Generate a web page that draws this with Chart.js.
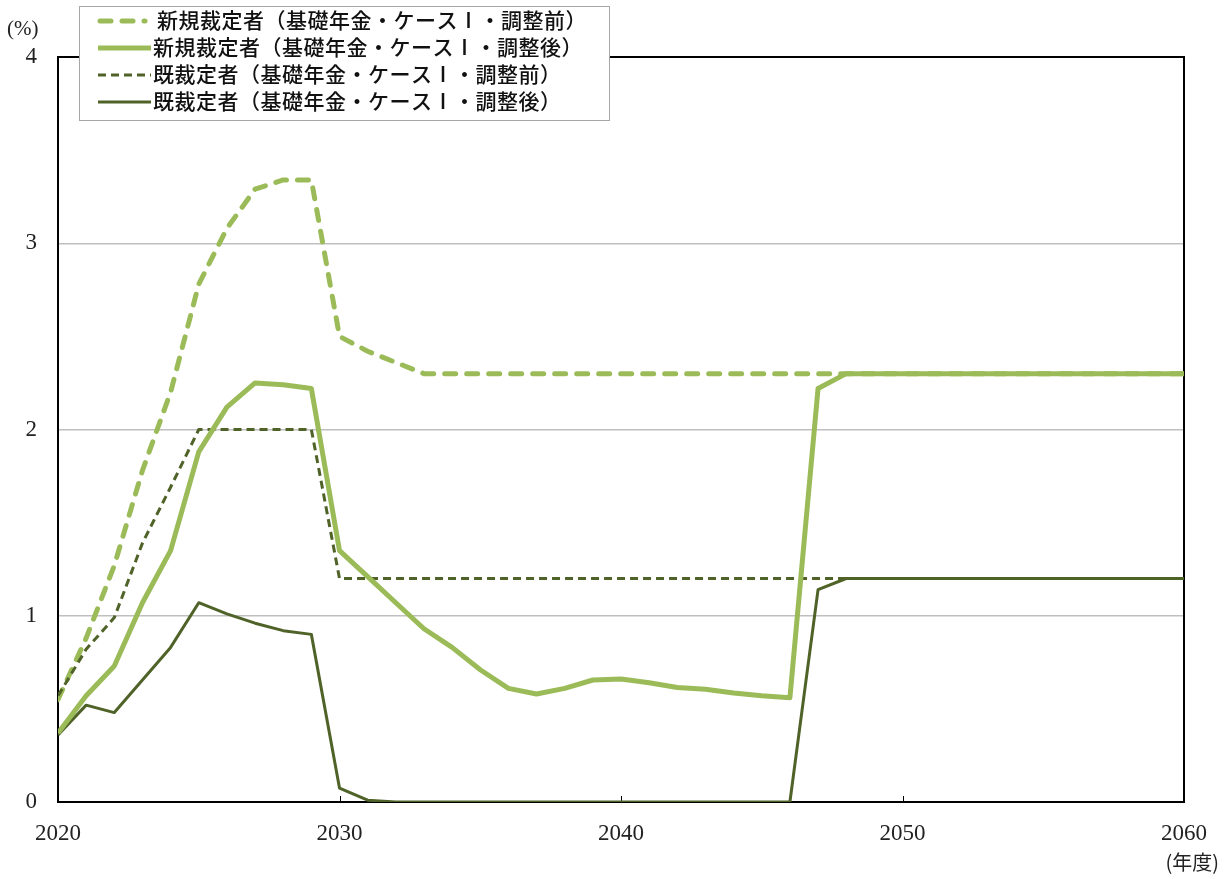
<!DOCTYPE html>
<html>
<head>
<meta charset="utf-8">
<script src="https://cdn.jsdelivr.net/npm/chart.js@4/dist/chart.umd.min.js"></script>
<style>
  body { margin: 0; background: #fff; }
  canvas { display: block; }
</style>
</head>
<body>
<canvas id="pension" width="1228" height="879"></canvas>
<script>
const ctx = document.getElementById('pension').getContext('2d');

// fiscal years on the x axis
const years = [
  2020, 2021, 2022, 2023, 2024, 2025, 2026, 2027, 2028, 2029,
  2030, 2031, 2032, 2033, 2034, 2035, 2036, 2037, 2038, 2039,
  2040, 2041, 2042, 2043, 2044, 2045, 2046, 2047, 2048, 2049,
  2050, 2051, 2052, 2053, 2054, 2055, 2056, 2057, 2058, 2059, 2060
];
const xTicks = [2020, 2030, 2040, 2050, 2060];
const yTicks = [0, 1, 2, 3, 4];

const seriesNames = [
  '新規裁定者（基礎年金・ケースⅠ・調整前）',
  '新規裁定者（基礎年金・ケースⅠ・調整後）',
  '既裁定者（基礎年金・ケースⅠ・調整前）',
  '既裁定者（基礎年金・ケースⅠ・調整後）'
];

// 新規裁定者 調整前
let newBefore = [
  0.55, 0.88, 1.27, 1.78, 2.20, 2.78, 3.08, 3.29, 3.34, 3.34,
  2.50, 2.42, 2.36, 2.30, 2.30, 2.30, 2.30, 2.30, 2.30, 2.30,
  2.30, 2.30, 2.30, 2.30, 2.30, 2.30, 2.30, 2.30, 2.30, 2.30,
  2.30, 2.30, 2.30, 2.30, 2.30, 2.30, 2.30, 2.30, 2.30, 2.30, 2.30
];
// 新規裁定者 調整後
let newAfter = [
  0.37, 0.57, 0.73, 1.07, 1.35, 1.88, 2.12, 2.25, 2.24, 2.22,
  1.35, 1.21, 1.07, 0.93, 0.83, 0.71, 0.61, 0.58, 0.61, 0.655,
  0.66, 0.64, 0.615, 0.605, 0.585, 0.57, 0.56, 2.22, 2.30, 2.30,
  2.30, 2.30, 2.30, 2.30, 2.30, 2.30, 2.30, 2.30, 2.30, 2.30, 2.30
];
// 既裁定者 調整前
let oldBefore = [
  0.57, 0.82, 0.99, 1.39, 1.69, 2.00, 2.00, 2.00, 2.00, 2.00,
  1.20, 1.20, 1.20, 1.20, 1.20, 1.20, 1.20, 1.20, 1.20, 1.20,
  1.20, 1.20, 1.20, 1.20, 1.20, 1.20, 1.20, 1.20, 1.20, 1.20,
  1.20, 1.20, 1.20, 1.20, 1.20, 1.20, 1.20, 1.20, 1.20, 1.20, 1.20
];
// 既裁定者 調整後
let oldAfter = [
  0.36, 0.52, 0.48, 0.655, 0.83, 1.07, 1.01, 0.96, 0.92, 0.90,
  0.075, 0.01, 0, 0, 0, 0, 0, 0, 0, 0,
  0, 0, 0, 0, 0, 0, 0, 1.14, 1.20, 1.20,
  1.20, 1.20, 1.20, 1.20, 1.20, 1.20, 1.20, 1.20, 1.20, 1.20, 1.20
];

const lightGreen = '#9BBB59';
const darkGreen = '#4F6228';
const serif = '"Liberation Serif", "Noto Sans CJK JP", serif';
const gothic = '"Noto Sans CJK JP", sans-serif';

function points(values) {
  return values.map((v, i) => ({ x: years[i], y: v }));
}

// black frame, inner x ticks, unit labels
const framePlugin = {
  id: 'frame',
  beforeDatasetsDraw(chart) {
    const a = chart.chartArea;
    const c = chart.ctx;
    const xs = chart.scales.x;
    c.save();
    c.strokeStyle = '#000';
    c.lineWidth = 2;
    c.strokeRect(a.left, a.top, a.right - a.left, a.bottom - a.top);
    c.lineWidth = 1;
    xTicks.slice(1, -1).forEach(t => {
      const px = Math.round(xs.getPixelForValue(t)) + 0.5;
      c.beginPath();
      c.moveTo(px, a.bottom);
      c.lineTo(px, a.bottom - 6);
      c.stroke();
    });
    c.restore();
  },
  afterDraw(chart) {
    const c = chart.ctx;
    c.save();
    c.fillStyle = '#222';
    c.font = '21px ' + serif;
    c.textBaseline = 'middle';
    c.textAlign = 'left';
    c.fillText('(%)', 7, 29);
    c.textAlign = 'right';
    c.font = '20px ' + gothic;
    c.fillText('(年度)', 1219, 862);
    c.restore();
  }
};

// legend box drawn over the plot, top left
const legendPlugin = {
  id: 'boxLegend',
  afterDraw(chart) {
    const c = chart.ctx;
    const box = { x: 79.5, y: 6.5, w: 530, h: 114 };
    c.save();
    c.fillStyle = '#fff';
    c.fillRect(box.x, box.y, box.w, box.h);
    c.strokeStyle = '#A6A6A6';
    c.lineWidth = 1;
    c.strokeRect(box.x, box.y, box.w, box.h);
    const rowY = [21, 48, 75, 102];
    chart.data.datasets.forEach((ds, i) => {
      const y = rowY[i];
      c.beginPath();
      c.strokeStyle = ds.borderColor;
      c.lineWidth = ds.borderWidth;
      c.lineCap = ds.borderCapStyle || 'butt';
      c.setLineDash(ds.borderDash || []);
      c.moveTo(i === 0 ? 100 : 98, y);
      c.lineTo(i === 0 ? 145 : 151, y);
      c.stroke();
      c.setLineDash([]);
      c.fillStyle = '#111';
      c.font = '500 21px ' + gothic;
      c.letterSpacing = '0.5px';
      c.textAlign = 'left';
      c.textBaseline = 'middle';
      c.fillText(ds.label, i === 0 ? 157 : 153, y - 1);
    });
    c.restore();
  }
};

const chart = new Chart(ctx, {
  type: 'line',
  data: {
    datasets: [
      {
        label: seriesNames[0],
        data: points(newBefore),
        borderColor: lightGreen,
        borderWidth: 5,
        borderDash: [11, 11],
        borderCapStyle: 'round',
        order: 4
      },
      {
        label: seriesNames[1],
        data: points(newAfter),
        borderColor: lightGreen,
        borderWidth: 5,
        order: 1
      },
      {
        label: seriesNames[2],
        data: points(oldBefore),
        borderColor: darkGreen,
        borderWidth: 3,
        borderDash: [8, 5],
        order: 3
      },
      {
        label: seriesNames[3],
        data: points(oldAfter),
        borderColor: darkGreen,
        borderWidth: 3,
        order: 2
      }
    ]
  },
  options: {
    responsive: false,
    animation: false,
    layout: { padding: { top: 57, right: 44, left: 0, bottom: 0 } },
    elements: {
      point: { radius: 0 },
      line: { tension: 0, borderJoinStyle: 'round' }
    },
    plugins: {
      legend: { display: false },
      tooltip: { enabled: false }
    },
    scales: {
      x: {
        type: 'linear',
        min: 2020,
        max: 2060,
        afterFit: s => { s.height = 77; },
        afterBuildTicks: s => { s.ticks = xTicks.map(v => ({ value: v })); },
        grid: { display: false },
        border: { display: false },
        ticks: {
          padding: 10,
          color: '#222',
          maxRotation: 0,
          callback: v => String(v),
          font: { family: serif, size: 23 }
        }
      },
      y: {
        min: 0,
        max: 4,
        afterFit: s => { s.width = 58; },
        afterBuildTicks: s => { s.ticks = yTicks.map(v => ({ value: v })); },
        grid: {
          color: ctx => (ctx.tick && (ctx.tick.value === 0 || ctx.tick.value === 4)) ? 'rgba(0,0,0,0)' : '#BFBFBF',
          lineWidth: 1.5,
          drawTicks: false
        },
        border: { display: false },
        ticks: {
          padding: 21,
          color: '#222',
          font: { family: serif, size: 23 }
        }
      }
    }
  },
  plugins: [framePlugin, legendPlugin]
});
</script>
</body>
</html>
